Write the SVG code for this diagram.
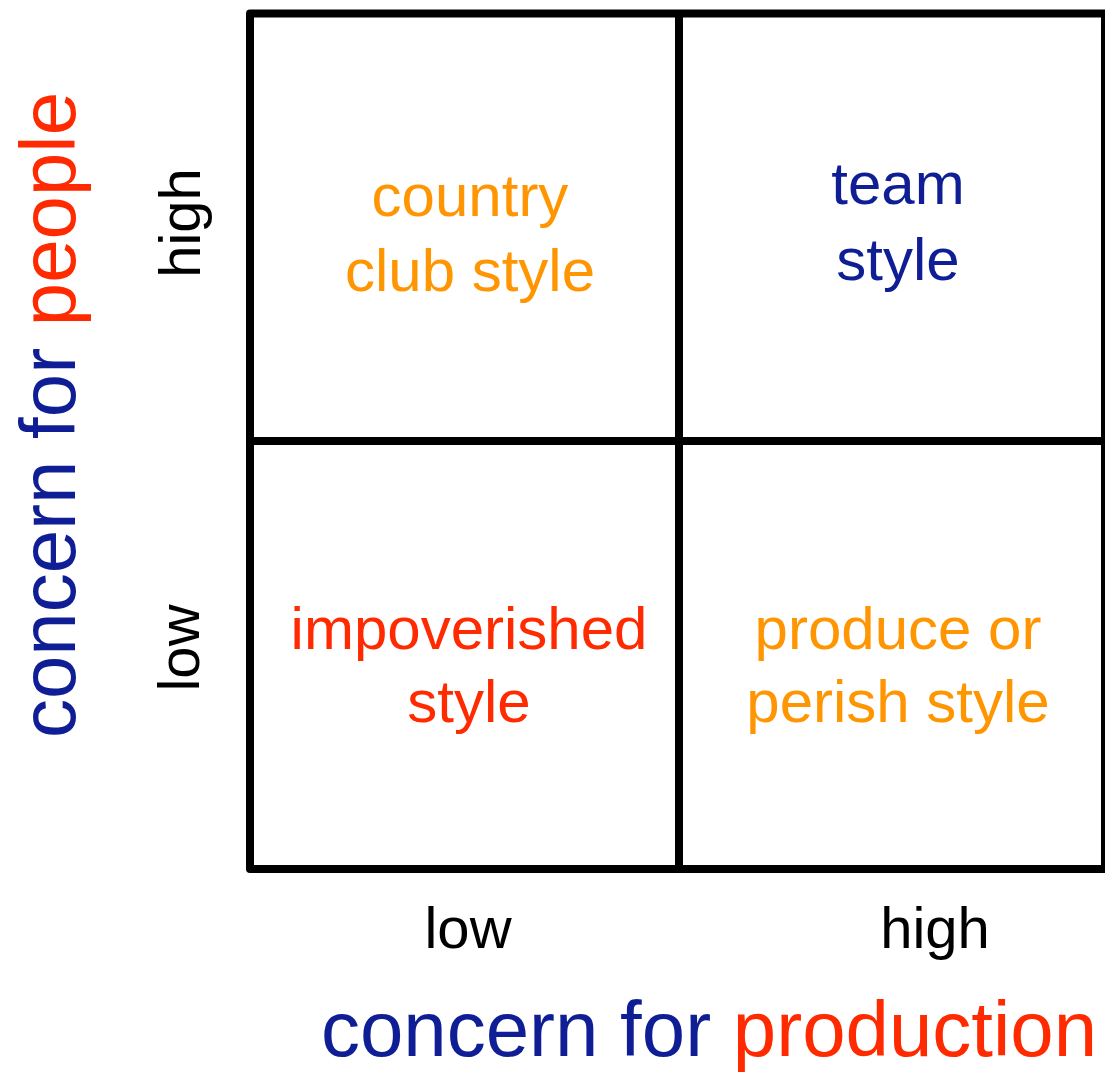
<svg xmlns="http://www.w3.org/2000/svg" width="1105" height="1074" viewBox="0 0 1105 1074">
  <style>
    text { font-family: "Liberation Sans", Arial, Helvetica, sans-serif; }
    .cell { font-size: 60px; text-anchor: middle; }
    .tick { font-size: 58px; fill: #000; text-anchor: middle; }
    .axis { font-size: 78px; text-anchor: middle; }
    .blue { fill: #0F1E95; }
    .red { fill: #FF2A00; }
    .orange { fill: #FF9500; }
    .frame { fill: none; stroke: #000; stroke-width: 8; stroke-linejoin: round; stroke-linecap: butt; }
  </style>

  <rect width="1105" height="1074" fill="#fff"/>

  <!-- 2x2 grid frame -->
  <g id="grid">
    <rect class="frame" x="250" y="13.5" width="855" height="855.5"/>
    <line class="frame" x1="679" y1="13.5" x2="679" y2="869"/>
    <line class="frame" x1="250" y1="441" x2="1105" y2="441"/>
  </g>

  <!-- quadrant labels -->
  <g id="country-club">
    <text class="cell orange" x="470" y="216">country</text>
    <text class="cell orange" x="470" y="291">club style</text>
  </g>
  <g id="team">
    <text class="cell blue" x="898" y="204">team</text>
    <text class="cell blue" x="898" y="280">style</text>
  </g>
  <g id="impoverished">
    <text class="cell red" x="469" y="649">impoverished</text>
    <text class="cell red" x="469" y="722">style</text>
  </g>
  <g id="produce-or-perish">
    <text class="cell orange" x="898" y="649">produce or</text>
    <text class="cell orange" x="898" y="722">perish style</text>
  </g>

  <!-- axis ticks -->
  <g id="x-ticks">
    <text class="tick" x="468" y="948">low</text>
    <text class="tick" x="935" y="948">high</text>
  </g>
  <g id="y-ticks">
    <text class="tick" transform="translate(200,223) rotate(-90)">high</text>
    <text class="tick" transform="translate(199,648) rotate(-90)">low</text>
  </g>

  <!-- axis titles -->
  <g id="x-title">
    <text class="axis" x="709" y="1056"><tspan class="blue">concern for </tspan><tspan class="red">production</tspan></text>
  </g>
  <g id="y-title">
    <text class="axis" transform="translate(75,415) rotate(-90)"><tspan class="blue">concern for </tspan><tspan class="red">people</tspan></text>
  </g>
</svg>
